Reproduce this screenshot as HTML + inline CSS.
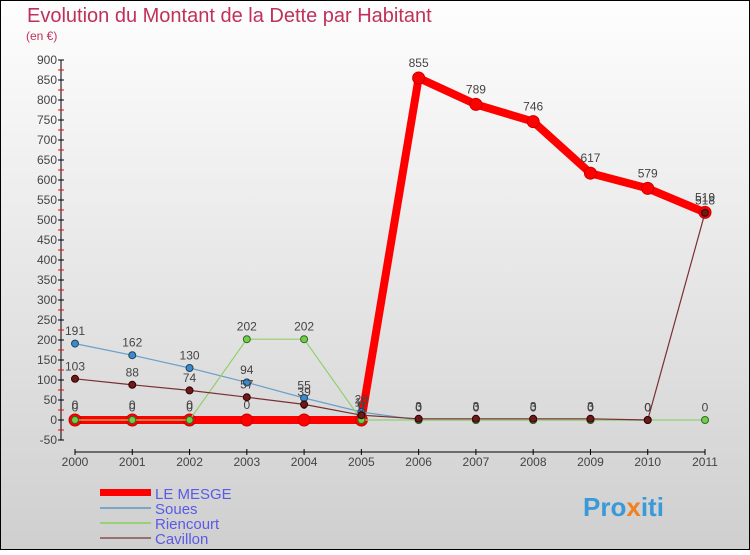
<!DOCTYPE html>
<html><head><meta charset="utf-8"><style>
body{margin:0}
#c{width:750px;height:550px;position:relative;font-family:"Liberation Sans",sans-serif}
</style></head><body>
<div id="c">
<svg id="s" width="750" height="550" xmlns="http://www.w3.org/2000/svg">
<defs><linearGradient id="bg" x1="0" y1="0" x2="0" y2="1"><stop offset="0" stop-color="#fefefe"/><stop offset="1" stop-color="#cfcfcf"/></linearGradient></defs>
<rect x="0.5" y="0.5" width="749" height="549" fill="url(#bg)" stroke="#000"/>
<text x="27" y="22" font-size="20" fill="#c0305a">Evolution du Montant de la Dette par Habitant</text>
<text x="26" y="40" font-size="12" fill="#c0305a">(en €)</text>
<g id="axes"></g><g id="series"></g>
<g>
<rect x="100" y="489" width="51" height="7" fill="#f00"/>
<text x="155" y="499" font-size="15" fill="#5a5ae6">LE MESGE</text>
<line x1="100" y1="508" x2="151" y2="508" stroke="#7aa6c8" stroke-width="2"/>
<text x="155" y="514" font-size="15" fill="#5a5ae6">Soues</text>
<line x1="100" y1="523" x2="151" y2="523" stroke="#9ad07a" stroke-width="2"/>
<text x="155" y="529" font-size="15" fill="#5a5ae6">Riencourt</text>
<line x1="100" y1="538" x2="151" y2="538" stroke="#987070" stroke-width="2"/>
<text x="155" y="544" font-size="15" fill="#5a5ae6">Cavillon</text>
</g>
<text x="583" y="516" font-size="26" font-weight="bold" fill="#3a9ad8">Pro<tspan fill="#f08020">x</tspan>iti</text>
</svg></div>
<script>
const years=["2000","2001","2002","2003","2004","2005","2006","2007","2008","2009","2010","2011"];
const yTicks=[900,850,800,750,700,650,600,550,500,450,400,350,300,250,200,150,100,50,0,-50];
const leMesge=[0,0,0,0,0,0,855,789,746,617,579,519];
const soues=[191,162,130,94,55,20,0,0,0,0,0,null];
const riencourt=[0,0,0,202,202,0,0,0,0,0,0,0];
const cavillon=[103,88,74,57,39,12,3,3,3,3,0,518];
const NS="http://www.w3.org/2000/svg";
const X=i=>75+i*(630/11);
const Y=v=>420-v*0.4;
function mk(t,a,p){const e=document.createElementNS(NS,t);for(const k in a)e.setAttribute(k,a[k]);p.appendChild(e);return e;}
const ax=document.getElementById('axes');
let l=mk('line',{x1:61,y1:Y(900),x2:61,y2:Y(-50),stroke:'#000'},ax);


yTicks.forEach(v=>{
 mk('line',{x1:58,x2:64,y1:Y(v),y2:Y(v),stroke:'#000'},ax);
 if(v>-50)mk('line',{x1:58,x2:64,y1:Y(v-25),y2:Y(v-25),stroke:'#f00'},ax);
 const t=mk('text',{x:57,y:Y(v)+4,'font-size':12,fill:'#444','text-anchor':'end'},ax);t.textContent=v;
 
 
});
l=mk('line',{x1:X(0),y1:452,x2:X(11),y2:452,stroke:'#000'},ax);


years.forEach((y,i)=>{
 mk('line',{x1:X(i),x2:X(i),y1:449,y2:455,stroke:'#000'},ax);
 const t=mk('text',{x:X(i),y:466,'font-size':12,fill:'#444','text-anchor':'middle'},ax);t.textContent=y;
 
 
});
const sg=document.getElementById('series');
function draw(data,name,col,w,r,fill,stroke){
 const g=mk('g',{},sg);
 
 
 let pts=[];data.forEach((v,i)=>{if(v!==null)pts.push(X(i)+','+Y(v));});
 mk('polyline',{points:pts.join(' '),fill:'none',stroke:col,'stroke-width':w,'stroke-linejoin':'round'},g);
 data.forEach((v,i)=>{if(v===null)return;
  const c=mk('circle',{cx:X(i),cy:Y(v),r:r,fill:fill,stroke:stroke,'stroke-width':1},g);
  
  
  const t=mk('text',{x:X(i),y:Y(v)-r-5,'font-size':12,fill:'#444','text-anchor':'middle'},g);t.textContent=v;
 });
}
draw(leMesge,'le-mesge','#f00',8,6,'#f00','#c00');
draw(soues,'soues','#6aa0cc',1.2,3.5,'#3a8ad0','#245');
draw(riencourt,'riencourt','#90d070',1.2,3.5,'#70d040','#363');
draw(cavillon,'cavillon','#7a3030',1.2,3.5,'#6a1a1a','#300');
</script>
</body></html>
